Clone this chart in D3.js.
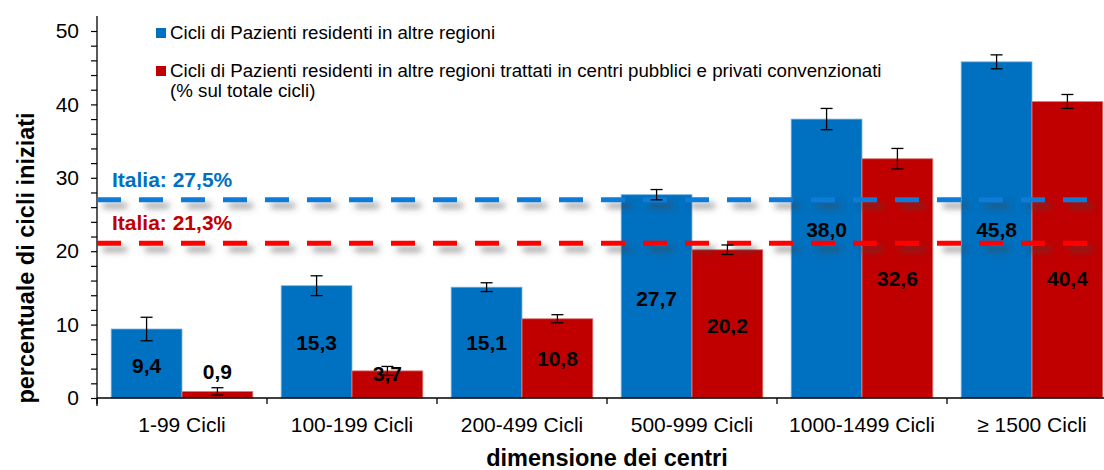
<!DOCTYPE html>
<html>
<head>
<meta charset="utf-8">
<script src="https://d3js.org/d3.v7.min.js"></script>
<style>
  body { margin: 0; background: #fff; }
  svg { font-family: Arial, "Liberation Sans", sans-serif; }
</style>
</head>
<body>
<div id="chart"></div>
<script>
  // data
  var categories = ["1-99 Cicli", "100-199 Cicli", "200-499 Cicli", "500-999 Cicli", "1000-1499 Cicli", "\u2265 1500 Cicli"];
  var blueVals = [9.4, 15.3, 15.1, 27.7, 38.0, 45.8];
  var redVals = [0.9, 3.7, 10.8, 20.2, 32.6, 40.4];
  var blueErr = [1.6, 1.35, 0.6, 0.7, 1.45, 0.95];
  var redErr = [0.5, 0.6, 0.55, 0.65, 1.4, 0.95];
  // where the value labels sit (in axis units)
  var blueLabelAt = [4.4, 7.5, 7.5, 13.6, 22.9, 22.9];
  var redLabelAt = [3.6, 3.3, 5.3, 9.9, 16.3, 16.3];
  var italiaLabels = ["Italia: 27,5%", "Italia: 21,3%"];
  var italiaLines = [27.0, 21.1];
  var yTicks = [0, 10, 20, 30, 40, 50];
  var legendLabels = ["Cicli di Pazienti residenti in altre regioni",
    "Cicli di Pazienti residenti in altre regioni trattati in centri pubblici e privati convenzionati",
    "(% sul totale cicli)"];

  var width = 1104, height = 470;
  var blue = "#0070C0", red = "#C00000";

  var svg = d3.select("#chart").append("svg")
    .attr("width", width).attr("height", height);

  // shadow for the dashed lines (userSpaceOnUse: lines have zero height)
  var defs = svg.append("defs");
  var f = defs.append("filter").attr("id", "shadow")
    .attr("filterUnits", "userSpaceOnUse")
    .attr("x", 0).attr("y", 0).attr("width", width).attr("height", height);
  f.append("feDropShadow").attr("dx", 6).attr("dy", 6).attr("stdDeviation", 3)
    .attr("flood-color", "#444").attr("flood-opacity", 0.55);

  var x0 = 97, bandW = 170;
  var x = d3.scaleBand().domain(categories)
    .range([x0, x0 + bandW * categories.length]).paddingInner(0).paddingOuter(0);
  var xs = d3.scaleBand().domain([0, 1]).range([0, bandW]).paddingInner(0).paddingOuter(0.2);
  var y = d3.scaleLinear().domain([0, 50]).range([398, 31]);

  // bars
  var series = [
    { vals: blueVals, err: blueErr, lab: blueLabelAt, col: blue, stroke: "#7fb4e0" },
    { vals: redVals, err: redErr, lab: redLabelAt, col: red, stroke: "#e08080" }
  ];

  series.forEach(function (s, si) {
    var g = svg.append("g");
    g.selectAll("rect").data(s.vals).enter().append("rect")
      .attr("x", function (d, i) { return x(categories[i]) + xs(si); })
      .attr("y", function (d) { return y(d); })
      .attr("width", xs.bandwidth())
      .attr("height", function (d) { return y(0) - y(d); })
      .attr("fill", s.col)
      .attr("stroke", s.stroke).attr("stroke-width", 0.8);
  });

  // x axis
  svg.append("line").attr("x1", x0).attr("x2", width).attr("y1", y(0)).attr("y2", y(0))
    .attr("stroke", "#000").attr("stroke-width", 1.3);
  d3.range(categories.length + 1).forEach(function (i) {
    var xx = x0 + i * bandW;
    svg.append("line").attr("x1", xx).attr("x2", xx).attr("y1", y(0)).attr("y2", y(0) + 6)
      .attr("stroke", "#000").attr("stroke-width", 1.3);
  });
  svg.append("g").selectAll("text").data(categories).enter().append("text")
    .attr("x", function (d) { return x(d) + bandW / 2; })
    .attr("y", 432)
    .attr("text-anchor", "middle")
    .attr("font-size", 21).attr("fill", "#000")
    .text(function (d) { return d; });

  // y axis
  var yAxis = d3.axisLeft(y).tickValues(d3.range(0, 51, 2)).tickSize(6)
    .tickFormat(function (d) { return yTicks.indexOf(d) >= 0 ? d : ""; });
  var ya = svg.append("g").attr("transform", "translate(" + x0 + ",0)").call(yAxis);
  ya.select(".domain").attr("stroke", "#000").attr("stroke-width", 1.3)
    .attr("d", "M0," + (y(0) + 8) + "V" + 16);
  ya.selectAll(".tick line").attr("stroke", "#000").attr("stroke-width", 1.2);
  ya.selectAll(".tick text").attr("font-size", 21).attr("fill", "#000")
    .attr("font-family", "Arial, 'Liberation Sans', sans-serif").attr("x", -18);

  // axis titles
  svg.append("text")
    .attr("transform", "translate(34,258) rotate(-90)")
    .attr("text-anchor", "middle")
    .attr("font-size", 23.5).attr("font-weight", "bold")
    .text("percentuale di cicli iniziati");
  svg.append("text")
    .attr("x", 607).attr("y", 466)
    .attr("text-anchor", "middle")
    .attr("font-size", 23.5).attr("font-weight", "bold")
    .text("dimensione dei centri");

  // Italia reference lines
  var lineCols = ["#0A7BD9", "#FF0000"];
  var labelCols = [blue, red];
  italiaLines.forEach(function (v, i) {
    svg.append("line")
      .attr("x1", x0).attr("x2", width)
      .attr("y1", y(v)).attr("y2", y(v))
      .attr("stroke", lineCols[i]).attr("stroke-width", 5)
      .attr("stroke-dasharray", "24,18")
      .attr("filter", "url(#shadow)");
    svg.append("text")
      .attr("x", 112).attr("y", y(v) - 13)
      .attr("font-size", 21).attr("font-weight", "bold")
      .attr("fill", labelCols[i])
      .text(italiaLabels[i]);
  });

  // error bars
  series.forEach(function (s, si) {
    var g = svg.append("g").attr("stroke", "#000").attr("stroke-width", 1.3);
    s.vals.forEach(function (v, i) {
      var cx = x(categories[i]) + xs(si) + xs.bandwidth() / 2;
      var top = y(v + s.err[i]), bot = y(v - s.err[i]);
      g.append("line").attr("x1", cx).attr("x2", cx).attr("y1", top).attr("y2", bot);
      g.append("line").attr("x1", cx - 6).attr("x2", cx + 6).attr("y1", top).attr("y2", top);
      g.append("line").attr("x1", cx - 6).attr("x2", cx + 6).attr("y1", bot).attr("y2", bot);
    });
  });

  // value labels
  series.forEach(function (s, si) {
    svg.append("g").selectAll("text").data(s.vals).enter().append("text")
      .attr("x", function (d, i) { return x(categories[i]) + xs(si) + xs.bandwidth() / 2; })
      .attr("y", function (d, i) { return y(s.lab[i]); })
      .attr("dy", "0.35em")
      .attr("text-anchor", "middle")
      .attr("font-size", 21).attr("font-weight", "bold").attr("fill", "#000")
      .text(function (d) { return d.toFixed(1).replace(".", ","); });
  });

  // legend
  var lg = svg.append("g").attr("font-size", 18.7).attr("fill", "#000");
  lg.append("rect").attr("x", 156).attr("y", 28).attr("width", 10).attr("height", 10).attr("fill", blue);
  lg.append("text").attr("x", 170).attr("y", 39).text(legendLabels[0]);
  lg.append("rect").attr("x", 156).attr("y", 66).attr("width", 10).attr("height", 10).attr("fill", red);
  lg.append("text").attr("x", 170).attr("y", 77).text(legendLabels[1]);
  lg.append("text").attr("x", 170).attr("y", 97).text(legendLabels[2]);
</script>
</body>
</html>
